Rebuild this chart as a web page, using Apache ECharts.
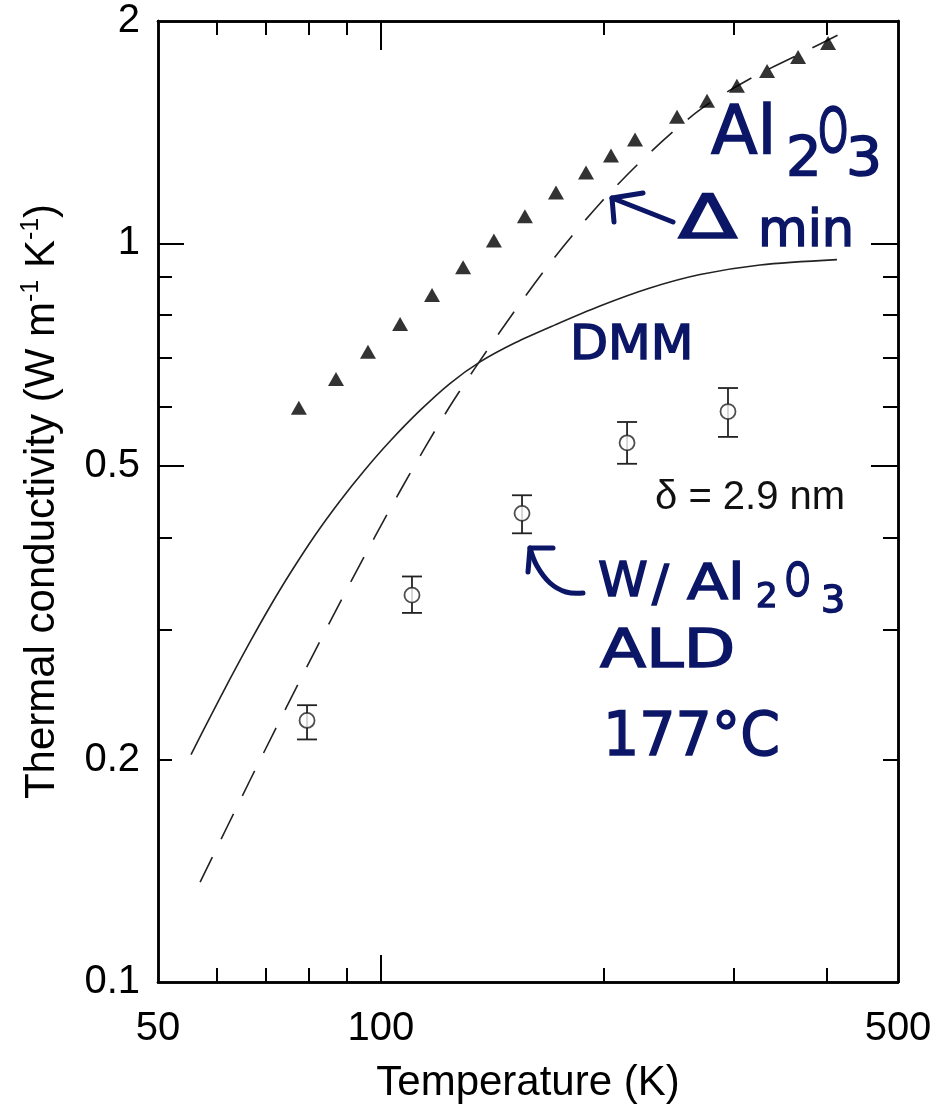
<!DOCTYPE html>
<html><head><meta charset="utf-8">
<script src="https://cdn.jsdelivr.net/npm/echarts@6/dist/echarts.min.js"></script>
<style>html,body{margin:0;padding:0;background:#fff}#c{width:948px;height:1109px}</style>
</head><body><div id="c"></div>
<script>
// ---- data ----
const tempAl2O3 = [77.5, 87.0, 96.1, 106.2, 117.3, 129.2, 142.2, 156.6, 172.5, 189.4, 204.7, 220.6, 251.4, 276.0, 302.9, 332.7, 366.4, 402.2];
const kAl2O3    = [0.599, 0.655, 0.713, 0.778, 0.851, 0.928, 1.009, 1.088, 1.172, 1.247, 1.315, 1.382, 1.484, 1.560, 1.634, 1.712, 1.788, 1.868];

const tempFilm  = [79.5, 110.2, 155.2, 215.2, 294.6];
const kFilm     = [0.226, 0.334, 0.431, 0.537, 0.592];
const kFilmLow  = [0.213, 0.316, 0.405, 0.503, 0.547];
const kFilmHigh = [0.237, 0.354, 0.456, 0.573, 0.637];

const tempDMM = [55.41, 58.78, 62.56, 66.58, 70.86, 75.40, 81.51, 88.09, 95.21, 102.9, 113.0, 124.0, 136.2, 151.9, 172.0, 197.8, 231.1, 270.1, 325.5, 413.5];
const kDMM    = [0.2032, 0.2282, 0.2572, 0.2887, 0.3224, 0.3573, 0.4026, 0.4480, 0.4938, 0.5396, 0.5940, 0.6460, 0.6910, 0.7334, 0.7756, 0.8226, 0.8700, 0.9073, 0.9348, 0.9505];

const tempMin = [57.0, 66.6, 77.8, 90.9, 106.2, 124.0, 145.0, 169.3, 197.8, 231.1, 270.1, 315.5, 368.6, 421.4];
const kMin    = [0.1365, 0.1877, 0.2562, 0.3466, 0.4621, 0.6018, 0.7596, 0.9399, 1.1325, 1.3269, 1.5170, 1.6704, 1.8047, 1.9296];

const xLabelValues = [50, 100, 500];
const xMajorTicks  = [100];
const xMinorTicks  = [60, 70, 80, 90, 200, 300, 400];
const yLabelValues = [0.1, 0.2, 0.5, 1, 2];
const yMajorTicks  = [0.5, 1];
const yMinorTicks  = [0.2, 0.3, 0.4, 0.6, 0.7, 0.8, 0.9];

const X_MIN = 50, X_MAX = 500, Y_MIN = 0.1, Y_MAX = 2;

// ---- styling ----
const FONT = '"Liberation Sans", Arial, Helvetica, sans-serif';
const HAND = '"DejaVu Sans", sans-serif';
const NAVY = '#0c1666';
const fmt = v => String(parseFloat(Number(v).toPrecision(4)));

function makeAxis(kind, pos, ticks, len, extra) {
  const base = {
    type: 'log', logBase: 10, position: pos, gridIndex: 0,
    min: kind === 'x' ? X_MIN : Y_MIN, max: kind === 'x' ? X_MAX : Y_MAX,
    axisLine: { show: true, onZero: false, lineStyle: { color: '#000', width: 2.5 } },
    axisTick: { show: true, inside: true, length: len, customValues: ticks, lineStyle: { color: '#000', width: 2 } },
    axisLabel: { show: false },
    splitLine: { show: false }, minorTick: { show: false }, minorSplitLine: { show: false }
  };
  return Object.assign(base, extra || {});
}

const xAxes = [
  makeAxis('x', 'bottom', xMajorTicks, 27, {
    axisLabel: { show: true, customValues: xLabelValues, formatter: fmt, fontSize: 40, fontFamily: FONT, color: '#000', margin: 27 },
    name: 'Temperature (K)', nameLocation: 'middle', nameGap: 80,
    nameTextStyle: { fontSize: 42, fontFamily: FONT, color: '#000' }
  }),
  makeAxis('x', 'bottom', xMinorTicks, 14),
  makeAxis('x', 'top', xMajorTicks, 29),
  makeAxis('x', 'top', xMinorTicks, 14)
];
const yAxes = [
  makeAxis('y', 'left', yMajorTicks, 26, {
    axisLabel: { show: true, customValues: yLabelValues, formatter: fmt, fontSize: 40, fontFamily: FONT, color: '#000', margin: 18 },
    name: '{t|Thermal conductivity (W m}{s|-1}{t| K}{s|-1}{t|)}', nameLocation: 'middle', nameGap: 93,
    nameTextStyle: { rich: {
      t: { fontSize: 42, fontFamily: FONT, color: '#000', lineHeight: 46 },
      s: { fontSize: 25, fontFamily: FONT, color: '#000', verticalAlign: 'top', lineHeight: 25 }
    } }
  }),
  makeAxis('y', 'left', yMinorTicks, 14),
  makeAxis('y', 'right', yMajorTicks, 27),
  makeAxis('y', 'right', yMinorTicks, 15)
];

// ---- annotations (handwritten labels) ----
function hw(str, left, baseline, size, sx) {
  return { type: 'text', x: left, y: baseline - 0.846 * size, scaleX: sx || 1, z: 100,
    style: { text: str, fontSize: size, fontFamily: HAND, fill: NAVY, stroke: NAVY, lineWidth: 1.5, align: 'left', verticalAlign: 'top' } };
}
function pen(points, smooth) {
  return { type: 'polyline', z: 100, shape: { points: points, smooth: smooth || 0 },
    style: { stroke: NAVY, lineWidth: 5, fill: null, lineCap: 'round', lineJoin: 'round' } };
}
const graphics = [
  hw('Al', 711, 160, 68, 1.0), hw('2', 786, 180, 56, 1.0), hw('O', 818, 157, 62, 0.62), hw('3', 846, 180, 54, 1.05),
  hw('\u0394', 678, 243, 60, 1.45), hw('min', 758, 250, 51, 1.0),
  pen([[673, 222], [612, 198]]), pen([[643, 193], [612, 198], [614, 222]]),
  hw('DMM', 570, 363, 48, 1.03),
  hw('W', 598, 600, 48, 1.05), hw('/', 652, 604, 50, 1.0), hw('Al', 687, 603, 50, 1.2), hw('2', 756, 610, 34, 1.0),
  hw('O', 785, 600, 46, 0.7), hw('3', 821, 615, 38, 1.0),
  pen([[553, 548], [530, 548], [528, 572]]), pen([[530, 548], [537, 566], [550, 583], [566, 592], [583, 593]], 0.4),
  hw('ALD', 600, 672, 53, 1.27),
  hw('177\u00b0C', 603, 760, 60, 0.95),
  { type: 'text', x: 655, y: 512 - 0.846 * 40, z: 100,
    style: { text: '\u03b4 = 2.9 nm', fontSize: 40, fontFamily: FONT, fill: '#111', align: 'left', verticalAlign: 'top' } }
];

const chart = echarts.init(document.getElementById('c'), null, { renderer: 'canvas' });
chart.setOption({
  animation: false,
  backgroundColor: '#fff',
  grid: { left: 158, right: 50, top: 21, bottom: 124, containLabel: false },
  xAxis: xAxes,
  yAxis: yAxes,
  series: [
    { type: 'line', name: 'DMM', data: tempDMM.map((t, i) => [t, kDMM[i]]), smooth: 0.3, showSymbol: false,
      lineStyle: { color: '#222', width: 1.6 }, z: 2 },
    { type: 'line', name: 'Λmin', data: tempMin.map((t, i) => [t, kMin[i]]), smooth: 0.3, showSymbol: false,
      lineStyle: { color: '#222', width: 1.6, type: [28, 20] }, z: 2 },
    { type: 'scatter', name: 'Al2O3', data: tempAl2O3.map((t, i) => [t, kAl2O3[i]]), symbol: 'triangle', symbolSize: [16, 14],
      itemStyle: { color: '#000' }, z: 5 },
    { type: 'custom', name: 'err', data: tempFilm.map((t, i) => [t, kFilmLow[i], kFilmHigh[i]]),
      encode: { x: 0, y: [1, 2] }, z: 4,
      renderItem: function (params, api) {
        const x = api.value(0);
        const lo = api.coord([x, api.value(1)]);
        const hi = api.coord([x, api.value(2)]);
        const hw2 = 10;
        const st = { stroke: '#222', lineWidth: 1.8 };
        return { type: 'group', children: [
          { type: 'line', shape: { x1: lo[0], y1: lo[1], x2: hi[0], y2: hi[1] }, style: st },
          { type: 'line', shape: { x1: lo[0] - hw2, y1: lo[1], x2: lo[0] + hw2, y2: lo[1] }, style: st },
          { type: 'line', shape: { x1: hi[0] - hw2, y1: hi[1], x2: hi[0] + hw2, y2: hi[1] }, style: st }
        ] };
      } },
    { type: 'scatter', name: 'W/Al2O3', data: tempFilm.map((t, i) => [t, kFilm[i]]), symbol: 'circle', symbolSize: 15,
      itemStyle: { color: '#fff', borderColor: '#222', borderWidth: 1.8 }, z: 6 }
  ],
  graphic: graphics
});
</script></body></html>
